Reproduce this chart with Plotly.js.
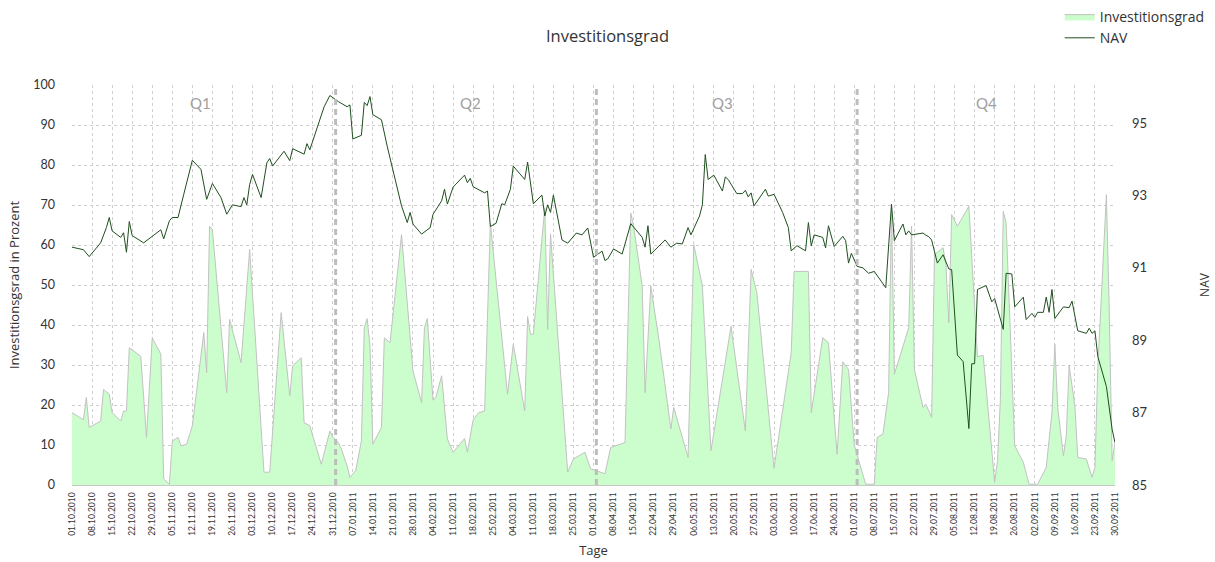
<!DOCTYPE html>
<html>
<head>
<meta charset="utf-8">
<script src="https://cdn.plot.ly/plotly-3.0.1.min.js"></script>
<style>
  html, body { margin: 0; padding: 0; background: #fff; }
  #chart { width: 1215px; height: 562px; }
</style>
</head>
<body>
<div id="chart"></div>
<script>
// Investitionsgrad (in %)
const investDates = [
  "2010-10-01","2010-10-05","2010-10-06","2010-10-07","2010-10-11","2010-10-12","2010-10-14","2010-10-15",
  "2010-10-18","2010-10-19","2010-10-20","2010-10-21","2010-10-25","2010-10-27","2010-10-29","2010-11-01",
  "2010-11-02","2010-11-04","2010-11-05","2010-11-07","2010-11-08","2010-11-10","2010-11-12","2010-11-16",
  "2010-11-17","2010-11-18","2010-11-19","2010-11-24","2010-11-25","2010-11-29","2010-12-02","2010-12-03",
  "2010-12-07","2010-12-09","2010-12-13","2010-12-16","2010-12-17","2010-12-20","2010-12-21","2010-12-23",
  "2010-12-27","2010-12-30","2010-12-31","2011-01-02","2011-01-03","2011-01-05","2011-01-06","2011-01-08",
  "2011-01-10","2011-01-11","2011-01-12","2011-01-13","2011-01-14","2011-01-17","2011-01-18","2011-01-20",
  "2011-01-24","2011-01-28","2011-01-31","2011-02-01","2011-02-02","2011-02-04","2011-02-05","2011-02-07",
  "2011-02-09","2011-02-11","2011-02-15","2011-02-16","2011-02-18","2011-02-20","2011-02-22","2011-02-24",
  "2011-03-02","2011-03-04","2011-03-08","2011-03-09","2011-03-10","2011-03-11","2011-03-15","2011-03-16",
  "2011-03-17","2011-03-23","2011-03-25","2011-03-29","2011-03-31","2011-04-02","2011-04-05","2011-04-07",
  "2011-04-12","2011-04-14","2011-04-15","2011-04-18","2011-04-19","2011-04-21","2011-04-24","2011-04-28",
  "2011-04-29","2011-05-04","2011-05-06","2011-05-09","2011-05-12","2011-05-19","2011-05-24","2011-05-26",
  "2011-05-28","2011-06-03","2011-06-09","2011-06-10","2011-06-15","2011-06-16","2011-06-20","2011-06-22",
  "2011-06-25","2011-06-27","2011-06-29","2011-07-01","2011-07-03","2011-07-05","2011-07-08","2011-07-09",
  "2011-07-11","2011-07-13","2011-07-14","2011-07-15","2011-07-20","2011-07-21","2011-07-22","2011-07-25",
  "2011-07-26","2011-07-28","2011-07-29","2011-08-01","2011-08-02","2011-08-03","2011-08-04","2011-08-06",
  "2011-08-10","2011-08-13","2011-08-15","2011-08-19","2011-08-20","2011-08-21","2011-08-22","2011-08-23",
  "2011-08-26","2011-08-28","2011-08-29","2011-08-31","2011-09-03","2011-09-06","2011-09-08","2011-09-09",
  "2011-09-10","2011-09-12","2011-09-13","2011-09-14","2011-09-16","2011-09-17","2011-09-20","2011-09-22",
  "2011-09-23","2011-09-24","2011-09-27","2011-09-28","2011-09-29","2011-09-30"
];
const investValues = [
  18.1,16.3,21.9,14.4,16.0,23.9,22.7,18.1,
  16.0,18.5,18.5,34.3,32.2,11.9,36.8,32.7,
  1.5,0.2,11.0,11.9,9.8,10.2,14.8,38.1,
  28.1,64.7,63.8,23.1,41.4,30.6,58.9,47.2,
  3.2,3.2,43.1,22.3,29.8,31.8,15.6,14.8,
  5.2,13.5,12.0,10.6,9.0,4.8,1.9,3.6,
  11.0,39.3,41.6,34.7,10.2,14.4,36.8,35.6,
  62.6,28.5,20.6,39.3,41.6,21.2,21.9,27.3,
  11.5,8.2,11.6,8.2,16.3,18.1,18.5,65.5,
  22.7,35.2,18.5,42.1,37.7,37.7,69.3,38.9,
  62.8,3.2,6.5,8.2,4.0,3.6,2.8,9.4,
  10.6,68.0,64.7,49.7,23.1,49.7,35.6,14.0,
  19.4,6.9,60.1,49.7,8.6,39.7,13.5,53.9,
  48.1,4.2,33.1,53.4,53.4,18.1,36.8,35.6,
  7.7,30.8,28.9,10.0,4.8,0.2,0.2,11.9,
  12.7,23.1,69.7,27.7,39.3,64.7,28.9,19.4,
  20.2,16.9,57.6,59.3,55.0,40.6,67.6,64.7,
  69.7,32.1,32.4,0.7,6.1,21.4,68.4,65.5,
  9.8,6.9,5.7,0.2,0.2,4.4,18.1,35.2,
  19.4,7.3,12.3,29.9,19.8,6.9,6.5,1.9,
  4.4,29.3,72.6,43.1,6.1,10.6
];

// NAV
const navDates = [
  "2010-10-01","2010-10-05","2010-10-07","2010-10-11","2010-10-13","2010-10-14","2010-10-15","2010-10-18",
  "2010-10-19","2010-10-20","2010-10-21","2010-10-22","2010-10-26","2010-10-30","2010-11-01","2010-11-02",
  "2010-11-04","2010-11-05","2010-11-07","2010-11-09","2010-11-12","2010-11-15","2010-11-17","2010-11-19",
  "2010-11-22","2010-11-24","2010-11-26","2010-11-29","2010-11-30","2010-12-01","2010-12-02","2010-12-03",
  "2010-12-06","2010-12-08","2010-12-09","2010-12-10","2010-12-14","2010-12-16","2010-12-17","2010-12-21",
  "2010-12-22","2010-12-23","2010-12-28","2010-12-30","2011-01-02","2011-01-05","2011-01-06","2011-01-07",
  "2011-01-10","2011-01-11","2011-01-12","2011-01-13","2011-01-14","2011-01-17","2011-01-19","2011-01-24",
  "2011-01-26","2011-01-27","2011-01-28","2011-01-31","2011-02-03","2011-02-04","2011-02-07","2011-02-08",
  "2011-02-09","2011-02-11","2011-02-15","2011-02-16","2011-02-17","2011-02-18","2011-02-22","2011-02-23",
  "2011-02-24","2011-02-26","2011-02-28","2011-03-01","2011-03-03","2011-03-04","2011-03-08","2011-03-09",
  "2011-03-11","2011-03-14","2011-03-15","2011-03-16","2011-03-17","2011-03-18","2011-03-21","2011-03-23",
  "2011-03-26","2011-03-28","2011-03-30","2011-04-01","2011-04-04","2011-04-05","2011-04-06","2011-04-08",
  "2011-04-11","2011-04-14","2011-04-18","2011-04-19","2011-04-20","2011-04-21","2011-04-26","2011-04-28",
  "2011-04-30","2011-05-02","2011-05-04","2011-05-05","2011-05-08","2011-05-09","2011-05-10","2011-05-11",
  "2011-05-13","2011-05-16","2011-05-17","2011-05-18","2011-05-21","2011-05-23","2011-05-24","2011-05-25",
  "2011-05-26","2011-05-27","2011-05-31","2011-06-01","2011-06-03","2011-06-06","2011-06-08","2011-06-09",
  "2011-06-11","2011-06-14","2011-06-15","2011-06-16","2011-06-17","2011-06-20","2011-06-21","2011-06-22",
  "2011-06-24","2011-06-27","2011-06-28","2011-06-29","2011-06-30","2011-07-02","2011-07-04","2011-07-06",
  "2011-07-08","2011-07-12","2011-07-14","2011-07-15","2011-07-18","2011-07-19","2011-07-20","2011-07-21",
  "2011-07-25","2011-07-26","2011-07-27","2011-07-28","2011-07-30","2011-08-01","2011-08-03","2011-08-04",
  "2011-08-06","2011-08-08","2011-08-10","2011-08-11","2011-08-12","2011-08-13","2011-08-16","2011-08-18",
  "2011-08-19","2011-08-22","2011-08-23","2011-08-25","2011-08-26","2011-08-29","2011-08-30","2011-09-01",
  "2011-09-02","2011-09-03","2011-09-05","2011-09-06","2011-09-07","2011-09-08","2011-09-09","2011-09-12",
  "2011-09-14","2011-09-15","2011-09-17","2011-09-20","2011-09-21","2011-09-22","2011-09-23","2011-09-24",
  "2011-09-27","2011-09-29","2011-09-30"
];
const navValues = [
  91.57,91.50,91.31,91.69,92.11,92.39,92.02,91.84,
  91.97,91.43,92.28,91.89,91.69,91.93,92.05,91.80,
  92.30,92.39,92.39,93.03,93.97,93.72,92.89,93.33,
  92.94,92.48,92.74,92.69,92.94,92.74,93.30,93.58,
  92.94,93.90,94.02,93.81,94.22,93.96,94.29,94.14,
  94.43,94.26,95.45,95.76,95.59,95.45,95.50,94.56,
  94.66,95.57,95.48,95.73,95.23,95.09,94.36,92.71,
  92.25,92.53,92.21,91.93,92.11,92.48,92.85,93.17,
  92.76,93.23,93.56,93.35,93.47,93.24,93.07,93.12,
  92.14,92.23,92.77,92.74,93.17,93.81,93.44,93.92,
  92.77,93.01,92.43,92.74,92.53,93.01,91.77,91.68,
  91.96,91.91,92.10,91.29,91.46,91.20,91.25,91.52,
  91.38,92.22,91.84,91.57,92.16,91.38,91.77,91.57,
  91.68,91.66,92.11,91.91,92.43,92.74,94.13,93.44,
  93.56,93.12,93.51,93.44,93.05,93.05,93.14,92.96,
  93.07,92.71,93.17,92.98,93.03,92.53,92.11,91.47,
  91.61,91.47,92.25,91.61,91.91,91.84,91.55,92.16,
  91.59,91.87,91.75,91.13,91.40,91.04,91.00,90.85,
  90.90,90.45,92.76,91.75,92.21,91.91,92.02,91.91,
  91.96,91.90,91.86,91.77,91.13,91.36,90.97,90.95,
  88.59,88.41,86.56,88.35,88.35,90.40,90.51,90.06,
  90.15,89.30,90.85,90.83,89.92,90.19,89.57,89.74,
  89.63,89.77,89.77,90.19,89.77,90.40,89.60,89.92,
  89.90,90.08,89.26,89.19,89.33,89.19,89.26,88.55,
  87.72,86.54,86.17
];

const quarterNames = ["Q1", "Q2", "Q3", "Q4"];
const quarterLabelDates = ["2010-11-15", "2011-02-17", "2011-05-16", "2011-08-16"];
const quarterBoundaries = ["2011-01-01", "2011-04-02", "2011-07-02"];

const FONT = "Lato, 'Open Sans', sans-serif";
const WIDE = "'Open Sans', Lato, sans-serif";

const traces = [
  {
    type: "scatter", mode: "lines", name: "Investitionsgrad",
    x: investDates, y: investValues,
    fill: "tozeroy", fillcolor: "#ccfdcc",
    line: { color: "#c2c2c2", width: 1 },
    hoverinfo: "skip"
  },
  {
    type: "scatter", mode: "lines", name: "NAV",
    x: navDates, y: navValues, yaxis: "y2",
    line: { color: "#1f4f1f", width: 1 },
    hoverinfo: "skip"
  }
];

const shapes = quarterBoundaries.map(d => ({
  type: "line", xref: "x", yref: "paper", x0: d, x1: d, y0: 0, y1: 1,
  line: { color: "#bdbdbd", width: 3, dash: "6px,4px" }, layer: "above"
}));

const annotations = quarterNames.map((q, i) => ({
  text: q, x: quarterLabelDates[i], xref: "x", y: 0.955, yref: "paper", yanchor: "middle",
  showarrow: false, font: { family: FONT, size: 15, color: "#a0a0a0" }
}));

const layout = {
  width: 1215, height: 562,
  margin: { l: 72, r: 100, t: 85, b: 77, autoexpand: false },
  paper_bgcolor: "#ffffff", plot_bgcolor: "#ffffff",
  font: { family: FONT, color: "#333333", size: 12 },
  title: { text: "Investitionsgrad", x: 0.5, xanchor: "center", y: 0.935, yanchor: "middle",
           font: { family: WIDE, size: 16.5, color: "#333333" } },
  showlegend: true,
  legend: { x: 0.947, xanchor: "left", y: 1.21, yanchor: "top",
            font: { family: WIDE, size: 14, color: "#333333" },
            bgcolor: "rgba(0,0,0,0)", tracegroupgap: 0, itemwidth: 30 },
  xaxis: {
    type: "date", range: ["2010-10-01", "2011-09-30"],
    tick0: "2010-10-01", dtick: 7 * 86400000, tickformat: "%d.%m.%Y",
    tickangle: -90, tickfont: { family: FONT, size: 8.5, color: "#333333" },
    showgrid: true, gridcolor: "#cfcfcf", griddash: "3px,3px", gridwidth: 1,
    showline: true, linecolor: "#c8c8c8", linewidth: 1,
    ticks: "", zeroline: false, ticklabelstandoff: 3,
    title: { text: "Tage", font: { family: WIDE, size: 13, color: "#333333" }, standoff: 11 }
  },
  yaxis: {
    range: [0, 100], dtick: 10, tick0: 0,
    tickfont: { family: FONT, size: 12.5, color: "#333333" },
    showgrid: true, gridcolor: "#cfcfcf", griddash: "3px,3px", gridwidth: 1,
    zeroline: false, showline: false, ticks: "", ticklabelstandoff: 16,
    title: { text: "Investitionsgsrad in Prozent", font: { family: WIDE, size: 13, color: "#333333" }, standoff: 10 }
  },
  yaxis2: {
    overlaying: "y", side: "right", range: [85, 96.05], dtick: 2, tick0: 85,
    tickfont: { family: FONT, size: 13, color: "#333333" },
    showgrid: false, zeroline: false, showline: false, ticks: "", ticklabelstandoff: 16,
    title: { text: "NAV", font: { family: WIDE, size: 12, color: "#333333" }, standoff: 54 }
  },
  shapes: shapes,
  annotations: annotations,
  hovermode: false
};

Plotly.newPlot("chart", traces, layout, { displayModeBar: false, staticPlot: true });
</script>
</body>
</html>
